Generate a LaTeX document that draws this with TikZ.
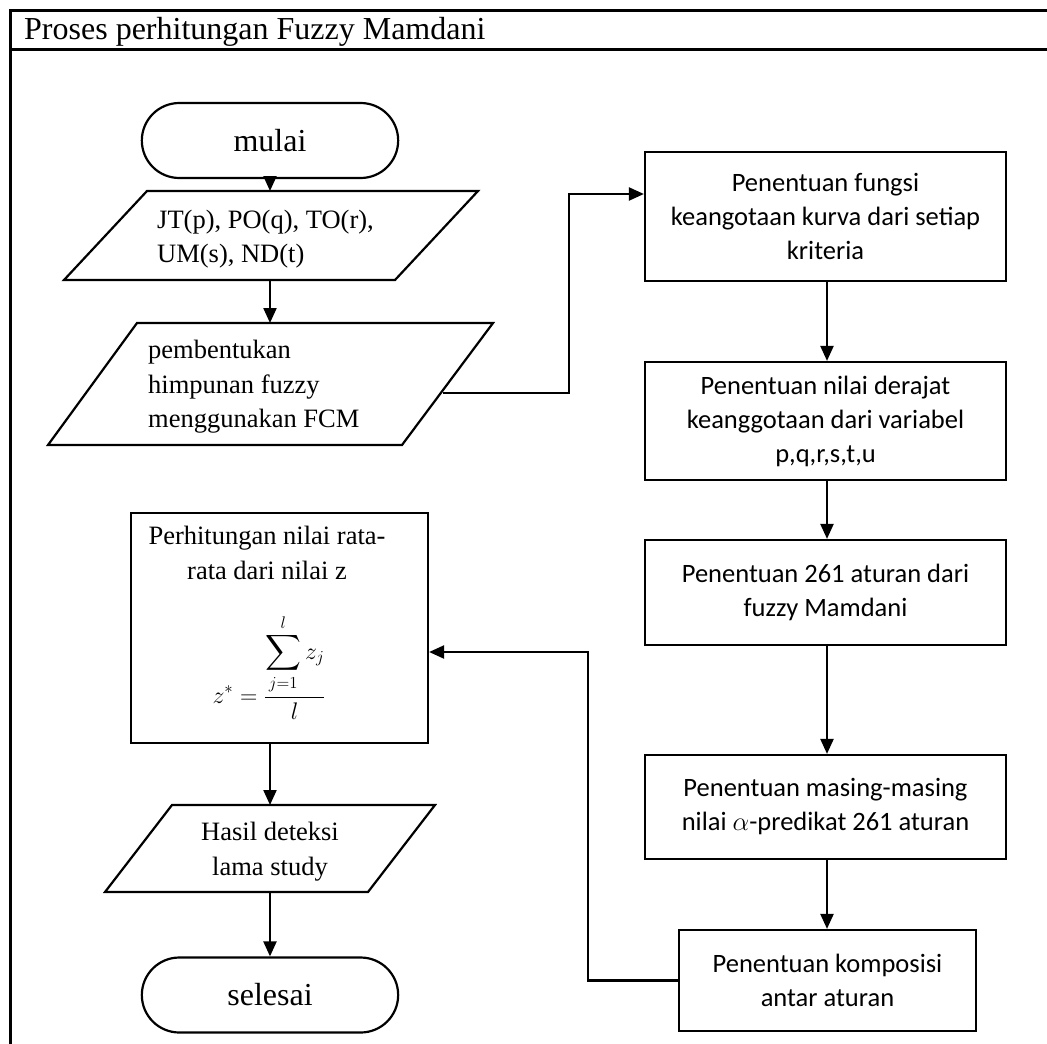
\documentclass[tikz,border=0pt]{standalone}
\usepackage{fix-cm}
\usepackage{amsmath}
\usepackage{exscale}
\usepackage{fontspec}
\setmainfont{Liberation Serif}
\newfontfamily\calibrifont{Carlito}
\usetikzlibrary{arrows.meta,shapes.misc}
\begin{document}
\begin{tikzpicture}[x=1pt,y=-1pt,
  shape line/.style={line width=2.2pt},
  arr/.style={line width=2.2pt,-{Triangle[length=15pt,width=13pt]}},
  terminal/.style={shape line,draw,rounded rectangle,minimum width=263pt,minimum height=75pt,
    font=\fontsize{32}{36}\selectfont},
  procbox/.style={shape line,draw,minimum width=361pt,inner sep=0pt,align=center,
    font=\calibrifont\fontsize{26.5}{34}\selectfont},
  serifleft/.style={inner sep=0pt,align=left,font=\fontsize{26.5}{34.5}\selectfont},
  serifcenter/.style={inner sep=0pt,align=center,font=\fontsize{26.5}{34.5}\selectfont}]
\useasboundingbox (0,0) rectangle (1047,1044);

% outer frame with header row
\draw[line width=3pt] (10,1044) -- (10,10) -- (1047,10);
\draw[line width=3pt] (10,49) -- (1047,49);
\node[anchor=base west,inner sep=0pt,font=\fontsize{32}{36}\selectfont] (title) at (24,39) {Proses perhitungan Fuzzy Mamdani};

% left column
\node[terminal] (start) at (270,140.5) {mulai};

\draw[shape line] (147,191) -- (478,191) -- (395,280) -- (64,280) -- cycle;
\coordinate (in1top) at (270,191);
\coordinate (in1bot) at (270,280);
\node[serifleft,anchor=west] (in1) at (157,239) {JT(p), PO(q), TO(r),\\UM(s), ND(t)};

\draw[shape line] (137,323) -- (493,323) -- (402,445) -- (48,445) -- cycle;
\coordinate (in2top) at (270,323);
\coordinate (in2out) at (443,393);
\node[serifleft,anchor=west] (in2) at (148,387) {pembentukan\\himpunan fuzzy\\menggunakan FCM};

\node[shape line,draw,minimum width=297pt,minimum height=230pt] (calc) at (279.5,628) {};
\node[serifcenter] (calctext) at (267,553) {Perhitungan nilai rata-\\rata dari nilai z};
\node[inner sep=0pt,font=\fontsize{24}{28}\selectfont] (formula) at (269,667)
  {$\displaystyle z^{*}=\frac{\displaystyle\sum_{j=1}^{l}z_{j}}{l}$};

\draw[shape line] (172,805) -- (435,805) -- (368,892) -- (105,892) -- cycle;
\coordinate (outtop) at (270,805);
\coordinate (outbot) at (270,892);
\node[serifcenter] (outtext) at (270,851.5) {Hasil deteksi\\lama study};

\node[terminal] (stop) at (270,995) {selesai};

% right column
\node[procbox,minimum height=129pt] (A) at (825.5,216.5) {Penentuan fungsi\\keangotaan kurva dari setiap\\kriteria};
\node[procbox,minimum height=118pt] (B) at (825.5,421) {Penentuan nilai derajat\\keanggotaan dari variabel\\p,q,r,s,t,u};
\node[procbox,minimum height=105pt] (C) at (825.5,592.5) {Penentuan 261 aturan dari\\fuzzy Mamdani};
\node[procbox,minimum height=104pt] (D) at (825.5,807) {Penentuan masing-masing\\nilai $\alpha$-predikat 261 aturan};
\node[procbox,minimum width=297pt,minimum height=101pt] (E) at (827.5,980.5) {Penentuan komposisi\\antar aturan};

% connectors
\draw[arr] (start.south) -- (in1top);
\draw[arr] (in1bot) -- (in2top);
\draw[arr] (in2out) -- (569,393) -- (569,194) -- (A.west |- 0,194);
\draw[arr] (A.south -| 827,0) -- (B.north -| 827,0);
\draw[arr] (B.south -| 827,0) -- (C.north -| 827,0);
\draw[arr] (C.south -| 827,0) -- (D.north -| 827,0);
\draw[arr] (D.south -| 827,0) -- (E.north -| 827,0);
\draw[arr] (E.west) -| (588,652) -- (calc.east |- 0,652);
\draw[arr] (calc.south -| outtop) -- (outtop);
\draw[arr] (outbot) -- (stop.north);
\end{tikzpicture}
\end{document}
